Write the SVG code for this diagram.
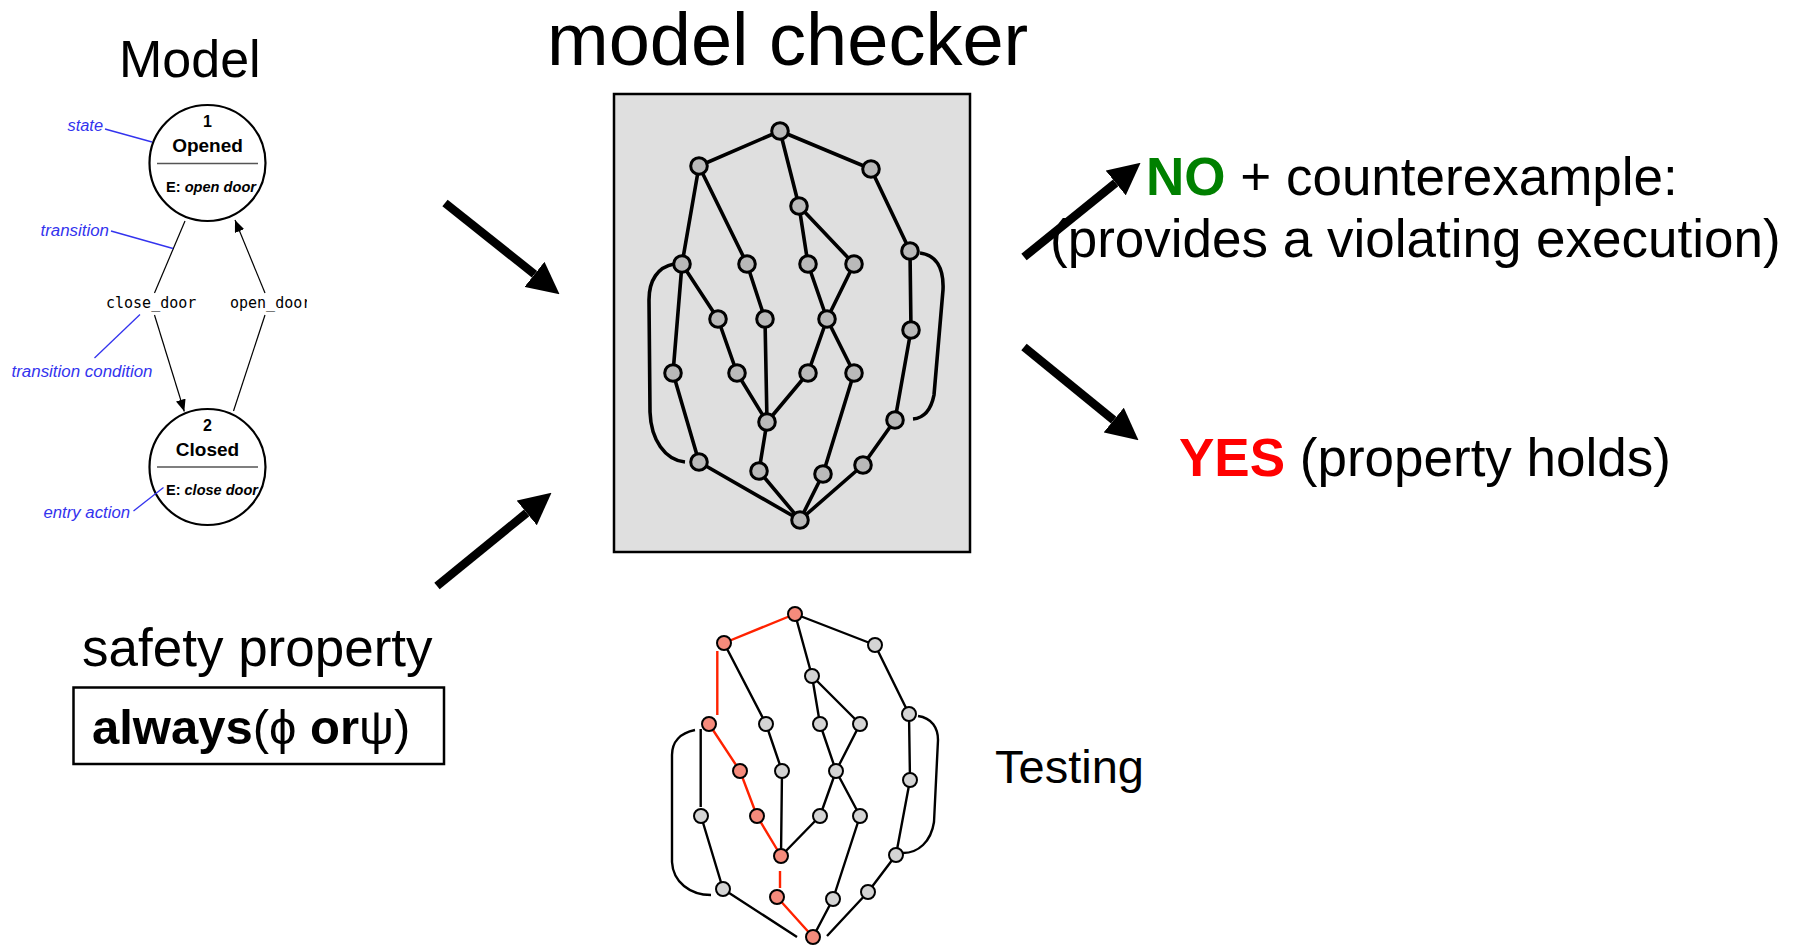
<svg xmlns="http://www.w3.org/2000/svg" width="1796" height="948" viewBox="0 0 1796 948">
<style>
text{font-family:"Liberation Sans",Arial,sans-serif}
.big{font-size:53px;fill:#000}
.blue{font-size:16px;font-style:italic;fill:#3333ee}
.bl{stroke:#3333ee;stroke-width:1.3;fill:none}
.mono{font-family:"DejaVu Sans Mono","Liberation Mono",monospace;font-size:15px;fill:#000}
.st{fill:#fff;stroke:#000;stroke-width:2.2}
.div{stroke:#555;stroke-width:1.5}
.tr{stroke:#000;stroke-width:1.2;fill:none}
.big-arrow{stroke:#000;stroke-width:8.5;fill:none;marker-end:url(#bigHead)}
.me{stroke:#000;stroke-width:3.6;fill:none}
.mn{fill:#b9b9b9;stroke:#000;stroke-width:3}
.te{stroke:#000;stroke-width:2.4;fill:none}
.tre{stroke:#ff2200;stroke-width:2.4;fill:none}
.tn{fill:#d4d4d4;stroke:#000;stroke-width:2}
.tnr{fill:#f58b7c;stroke:#000;stroke-width:2}
</style>
<defs>
<marker id="bigHead" markerUnits="userSpaceOnUse" markerWidth="32" markerHeight="32" viewBox="0 0 30 30" refX="0" refY="15" orient="auto">
<path d="M0,0 L30,15 L0,30 z" fill="#000"/>
</marker>
<marker id="smallHead" markerUnits="userSpaceOnUse" markerWidth="12" markerHeight="10" viewBox="0 0 12 10" refX="12" refY="5" orient="auto">
<path d="M0,0 L12,5 L0,10 z" fill="#000"/>
</marker>
<clipPath id="clipOpen"><rect x="0" y="280" width="307" height="40"/></clipPath>
</defs>

<rect width="1796" height="948" fill="#fff"/>

<!-- Titles -->
<g id="title-model"><text x="119" y="77" font-size="52">Model</text></g>
<g id="title-checker"><text x="547" y="65" font-size="74">model checker</text></g>

<!-- State machine -->
<g id="sm-connectors">
<line class="tr" x1="185" y1="221" x2="154.5" y2="293"/>
<line class="tr" x1="154.5" y1="315" x2="184.3" y2="411.5" marker-end="url(#smallHead)"/>
<line class="tr" x1="233.5" y1="411" x2="265" y2="315"/>
<line class="tr" x1="265" y1="293" x2="235" y2="220" marker-end="url(#smallHead)"/>
<text class="mono" x="106" y="308">close_door</text>
<text class="mono" x="230" y="308" clip-path="url(#clipOpen)">open_door</text>
</g>
<g id="state-opened">
<circle class="st" cx="207.5" cy="163" r="58"/>
<text x="207.5" y="127" font-size="16" font-weight="bold" text-anchor="middle">1</text>
<text x="207.5" y="152" font-size="19" font-weight="bold" text-anchor="middle">Opened</text>
<line class="div" x1="157" y1="163.5" x2="258" y2="163.5"/>
<text x="166" y="192" font-size="14" font-weight="bold" textLength="90" lengthAdjust="spacingAndGlyphs">E: <tspan font-style="italic">open door</tspan></text>
</g>
<g id="state-closed">
<circle class="st" cx="207.5" cy="467" r="58"/>
<text x="207.5" y="431" font-size="16" font-weight="bold" text-anchor="middle">2</text>
<text x="207.5" y="456" font-size="19" font-weight="bold" text-anchor="middle">Closed</text>
<line class="div" x1="157" y1="467" x2="258" y2="467"/>
<text x="166" y="494.5" font-size="14" font-weight="bold" textLength="92" lengthAdjust="spacingAndGlyphs">E: <tspan font-style="italic">close door</tspan></text>
</g>
<g id="annotations">
<line class="bl" x1="105" y1="129" x2="152" y2="142"/>
<text class="blue" x="67.5" y="130.5" textLength="35.5" lengthAdjust="spacingAndGlyphs">state</text>
<line class="bl" x1="111" y1="231" x2="173" y2="248.5"/>
<text class="blue" x="40.5" y="235.5" textLength="68.5" lengthAdjust="spacingAndGlyphs">transition</text>
<line class="bl" x1="94.5" y1="358" x2="140" y2="314.5"/>
<text class="blue" x="11.5" y="376.5" textLength="141" lengthAdjust="spacingAndGlyphs">transition condition</text>
<line class="bl" x1="133.5" y1="511" x2="163.5" y2="487.5"/>
<text class="blue" x="43.5" y="517.5" textLength="86.5" lengthAdjust="spacingAndGlyphs">entry action</text>
</g>

<!-- Big arrows -->
<g id="arrows">
<line class="big-arrow" x1="445" y1="203" x2="534.5" y2="274.3"/>
<line class="big-arrow" x1="437" y1="586" x2="526.7" y2="512.9"/>
<line class="big-arrow" x1="1024" y1="257" x2="1115.7" y2="182.9"/>
<line class="big-arrow" x1="1024" y1="347" x2="1113.7" y2="420.1"/>
</g>

<!-- Safety property -->
<g id="safety">
<text class="big" x="82" y="666">safety property</text>
<rect x="73.5" y="687.5" width="370.5" height="76.5" fill="#fff" stroke="#000" stroke-width="2.5"/>
<text x="92" y="744" font-size="49"><tspan font-weight="bold">always</tspan>(ϕ <tspan font-weight="bold">or</tspan>ψ)</text>
</g>

<!-- Results -->
<g id="result-no">
<text class="big" x="1146" y="195"><tspan font-weight="bold" fill="#008000">NO</tspan> + counterexample:</text>
<text class="big" x="1050" y="257">(provides a violating execution)</text>
</g>
<g id="result-yes">
<text class="big" x="1179" y="476"><tspan font-weight="bold" fill="#ff0000">YES</tspan> (property holds)</text>
</g>
<g id="label-testing"><text x="995" y="783" font-size="47">Testing</text></g>

<!-- Model checker box -->
<g id="checker-box">
<rect x="614" y="94" width="356" height="458" fill="#dfdfdf" stroke="#000" stroke-width="2.5"/>
</g>
<g id="checker-edges">
<path class="me" d="M780,131 L699,166 M780,131 L871,169 M780,131 L799,206 M699,166 L682,264 M699,166 L747,264 M871,169 L910,251 M799,206 L808,264 M799,206 L854,264 M682,264 L673,373 M682,264 L718,319 M747,264 L765,319 M808,264 L827,319 M854,264 L827,319 M910,251 L911,330 M718,319 L737,373 M765,319 L767,422 M827,319 L808,373 M827,319 L854,373 M911,330 L895,420 M673,373 L699,462 M737,373 L767,422 M808,373 L767,422 M854,373 L823,474 M767,422 L759,471 M895,420 L863,465 M699,462 L800,520 M759,471 L800,520 M823,474 L800,520 M863,465 L800,520"/>
<path class="me" d="M674,264 C658,267 649,280 649,300 L650,412 C651,440 665,460 685,462"/>
<path class="me" d="M920,253 C936,255 944,268 943,290 L934,395 C931,410 924,418 913,419"/>
</g>
<g id="checker-nodes">
<circle id="mA" class="mn" cx="780" cy="131" r="8.3"/>
<circle id="mB" class="mn" cx="699" cy="166" r="8.3"/>
<circle id="mC" class="mn" cx="871" cy="169" r="8.3"/>
<circle id="mD" class="mn" cx="799" cy="206" r="8.3"/>
<circle id="mE" class="mn" cx="682" cy="264" r="8.3"/>
<circle id="mF" class="mn" cx="747" cy="264" r="8.3"/>
<circle id="mG" class="mn" cx="808" cy="264" r="8.3"/>
<circle id="mH" class="mn" cx="854" cy="264" r="8.3"/>
<circle id="mI" class="mn" cx="910" cy="251" r="8.3"/>
<circle id="mJ" class="mn" cx="718" cy="319" r="8.3"/>
<circle id="mK" class="mn" cx="765" cy="319" r="8.3"/>
<circle id="mL" class="mn" cx="827" cy="319" r="8.3"/>
<circle id="mM" class="mn" cx="911" cy="330" r="8.3"/>
<circle id="mN" class="mn" cx="673" cy="373" r="8.3"/>
<circle id="mO" class="mn" cx="737" cy="373" r="8.3"/>
<circle id="mP" class="mn" cx="808" cy="373" r="8.3"/>
<circle id="mQ" class="mn" cx="854" cy="373" r="8.3"/>
<circle id="mR" class="mn" cx="767" cy="422" r="8.3"/>
<circle id="mS" class="mn" cx="895" cy="420" r="8.3"/>
<circle id="mT" class="mn" cx="699" cy="462" r="8.3"/>
<circle id="mU" class="mn" cx="759" cy="471" r="8.3"/>
<circle id="mV" class="mn" cx="823" cy="474" r="8.3"/>
<circle id="mW" class="mn" cx="863" cy="465" r="8.3"/>
<circle id="mX" class="mn" cx="800" cy="520" r="8.3"/>
</g>

<!-- Testing graph -->
<g id="testing-edges">
<path class="te" d="M795,614 L875,645 M795,614 L812,676 M724,643 L766,724 M875,645 L909,714 M812,676 L820,724 M812,676 L860,724 M700.7,729 L700.7,807 M766,724 L782,771 M820,724 L836,771 M860,724 L836,771 M909,714 L910,780 M782,771 L781,856 M836,771 L820,816 M836,771 L860,816 M910,780 L896,855 M701,816 L723,889 M820,816 L781,856 M860,816 L833,899 M896,855 L868,892 M723,889 L797,937 M833,899 L813,937 M868,892 L827,936"/>
<path class="te" d="M695,730 C680,733 672,742 672,755 L672,862 C673,882 690,895 711,895"/>
<path class="te" d="M918,716 C932,718 938,728 938,740 L934,822 C931,842 918,853 903,853"/>
<path class="tre" d="M795,614 L724,643 M717.3,651 L717.3,715 M709,724 L740,771 M740,771 L757,816 M757,816 L781,856 M780,871 L780,888 M777,897 L813,937"/>
</g>
<g id="testing-nodes">
<circle id="ta" class="tnr" cx="795" cy="614" r="7"/>
<circle id="tb" class="tnr" cx="724" cy="643" r="7"/>
<circle id="tc" class="tn" cx="875" cy="645" r="7"/>
<circle id="td" class="tn" cx="812" cy="676" r="7"/>
<circle id="te" class="tnr" cx="709" cy="724" r="7"/>
<circle id="tf" class="tn" cx="766" cy="724" r="7"/>
<circle id="tg" class="tn" cx="820" cy="724" r="7"/>
<circle id="th" class="tn" cx="860" cy="724" r="7"/>
<circle id="ti" class="tn" cx="909" cy="714" r="7"/>
<circle id="tj" class="tnr" cx="740" cy="771" r="7"/>
<circle id="tk" class="tn" cx="782" cy="771" r="7"/>
<circle id="tl" class="tn" cx="836" cy="771" r="7"/>
<circle id="tm" class="tn" cx="910" cy="780" r="7"/>
<circle id="tn" class="tn" cx="701" cy="816" r="7"/>
<circle id="to" class="tnr" cx="757" cy="816" r="7"/>
<circle id="tp" class="tn" cx="820" cy="816" r="7"/>
<circle id="tq" class="tn" cx="860" cy="816" r="7"/>
<circle id="tr" class="tnr" cx="781" cy="856" r="7"/>
<circle id="ts" class="tn" cx="896" cy="855" r="7"/>
<circle id="tt" class="tn" cx="723" cy="889" r="7"/>
<circle id="tu" class="tnr" cx="777" cy="897" r="7"/>
<circle id="tv" class="tn" cx="833" cy="899" r="7"/>
<circle id="tw" class="tn" cx="868" cy="892" r="7"/>
<circle id="tx" class="tnr" cx="813" cy="937" r="7"/>
</g>
</svg>
